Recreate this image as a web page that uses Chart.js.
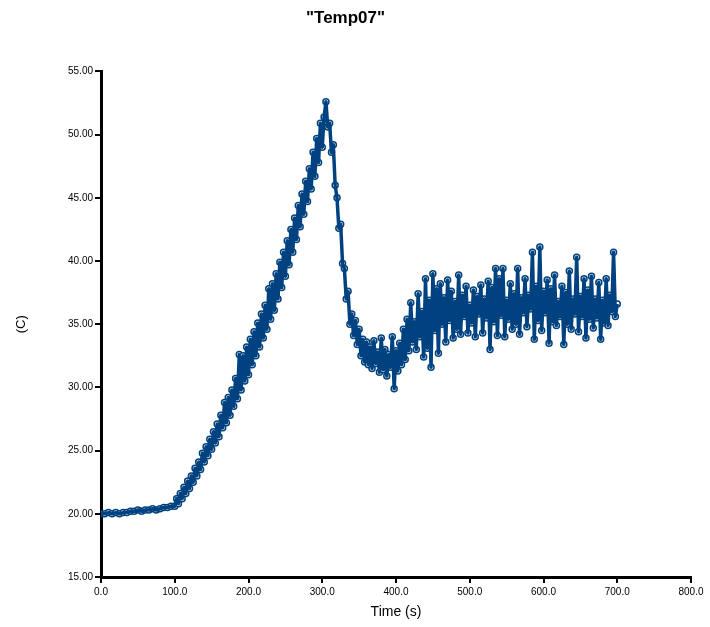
<!DOCTYPE html>
<html>
<head>
<meta charset="utf-8">
<script src="https://cdn.jsdelivr.net/npm/chart.js@4.4.0/dist/chart.umd.min.js"></script>
<style>
  html, body { margin: 0; padding: 0; background: #fff; }
  #wrap { width: 710px; height: 627px; }
</style>
</head>
<body>
<div id="wrap"><canvas id="tempChart" width="710" height="627"></canvas></div>
<script>
// time (s) of each reading
const times = [
  0, 5, 10, 15, 20, 25, 30, 35, 40, 45, 50, 55, 60, 65, 70, 75, 80, 85, 90, 95,
  100, 102.5, 105, 107.5, 110, 112.5, 115, 117.5,
  120, 122.5, 125, 127.5, 130, 132.5, 135, 137.5,
  140, 142.5, 145, 147.5, 150, 152.5, 155, 157.5,
  160, 162.5, 165, 167.5, 170, 172.5, 175, 177.5,
  180, 182.5, 185, 187.5, 190, 192.5, 195, 197.5,
  200, 202.5, 205, 207.5, 210, 212.5, 215, 217.5,
  220, 222.5, 225, 227.5, 230, 232.5, 235, 237.5,
  240, 242.5, 245, 247.5, 250, 252.5, 255, 257.5,
  260, 262.5, 265, 267.5, 270, 272.5, 275, 277.5,
  280, 282.5, 285, 287.5, 290, 292.5, 295, 297.5,
  300, 302.5, 305, 307.5, 310, 312.5, 315, 317.5,
  320, 322.5, 325, 327.5, 330, 332.5, 335, 337.5,
  340, 342.5, 345, 347.5, 350, 352.5, 355, 357.5,
  360, 362.5, 365, 367.5, 370, 372.5, 375, 377.5,
  380, 382.5, 385, 387.5, 390, 392.5, 395, 397.5,
  400, 402.5, 405, 407.5, 410, 412.5, 415, 417.5,
  420, 422.5, 425, 427.5, 430, 432.5, 435, 437.5,
  440, 442.5, 445, 447.5, 450, 452.5, 455, 457.5,
  460, 462.5, 465, 467.5, 470, 472.5, 475, 477.5,
  480, 482.5, 485, 487.5, 490, 492.5, 495, 497.5,
  500, 502.5, 505, 507.5, 510, 512.5, 515, 517.5,
  520, 522.5, 525, 527.5, 530, 532.5, 535, 537.5,
  540, 542.5, 545, 547.5, 550, 552.5, 555, 557.5,
  560, 562.5, 565, 567.5, 570, 572.5, 575, 577.5,
  580, 582.5, 585, 587.5, 590, 592.5, 595, 597.5,
  600, 602.5, 605, 607.5, 610, 612.5, 615, 617.5,
  620, 622.5, 625, 627.5, 630, 632.5, 635, 637.5,
  640, 642.5, 645, 647.5, 650, 652.5, 655, 657.5,
  660, 662.5, 665, 667.5, 670, 672.5, 675, 677.5,
  680, 682.5, 685, 687.5, 690, 692.5, 695, 697.5,
  700
];

// Temp07 readings (C)
const temps = [
  20.0, 20.0, 20.1, 20.0, 20.1, 20.0, 20.1, 20.1, 20.2, 20.2, 20.3, 20.2, 20.3, 20.3, 20.4, 20.3, 20.4, 20.5, 20.5, 20.6,
  20.6, 21.2, 20.8, 21.6, 21.2, 22.1, 21.6, 22.6,
  22.0, 23.0, 22.5, 23.6, 23.0, 24.1, 23.5, 24.8,
  24.1, 25.3, 24.6, 25.9, 25.1, 26.5, 25.6, 27.1,
  26.1, 27.8, 26.8, 28.8, 27.2, 29.2, 27.8, 29.8,
  28.5, 30.7, 29.1, 32.6, 29.8, 32.5, 30.5, 33.2,
  31.0, 33.8, 31.8, 34.4, 32.5, 35.1, 33.2, 35.8,
  33.9, 36.5, 34.6, 37.8, 35.4, 38.2, 36.1, 39.0,
  37.0, 39.9, 37.9, 40.7, 38.8, 41.6, 39.7, 42.5,
  40.7, 43.4, 41.7, 44.4, 42.7, 45.3, 43.7, 46.3,
  44.7, 47.3, 45.7, 48.6, 46.7, 49.7, 47.8, 50.9,
  49.0, 51.4, 52.6, 50.6, 50.9, 48.6, 49.2, 46.0,
  45.0, 42.6, 42.9, 39.8, 39.4, 37.0, 37.6, 35.0,
  35.8, 34.1, 35.3, 33.4, 34.6, 32.5, 33.8, 32.0,
  33.6, 31.8, 33.2, 31.5, 33.7, 31.9, 32.8, 31.2,
  33.9, 31.4, 33.0, 30.9, 32.6, 31.6, 34.0, 29.9,
  32.9, 31.3, 33.5, 31.8, 34.6, 32.2, 35.4, 32.9,
  36.7, 33.6, 35.2, 33.0, 37.4, 34.0, 36.0, 32.4,
  38.6, 33.1, 36.9, 31.6, 39.0, 34.5, 37.8, 32.7,
  38.2, 35.0, 37.1, 33.6, 38.5, 35.3, 37.6, 33.9,
  36.8, 34.6, 38.9, 34.2, 37.3, 35.6, 38.0, 34.3,
  36.5, 35.1, 37.7, 34.0, 37.2, 35.8, 38.1, 34.3,
  37.0, 35.5, 38.4, 33.0, 37.9, 35.2, 39.4, 34.1,
  38.6, 35.7, 39.4, 34.0, 36.9, 35.4, 38.2, 34.6,
  37.4, 35.0, 39.4, 34.2, 37.1, 35.9, 38.6, 34.8,
  37.3, 36.2, 40.7, 33.8, 38.0, 35.3, 41.1, 34.5,
  37.6, 35.9, 38.5, 33.5, 37.8, 35.2, 38.9, 34.9,
  36.8, 35.6, 38.0, 33.4, 37.5, 35.0, 39.2, 34.6,
  37.0, 35.8, 40.3, 34.4, 37.2, 35.6, 38.6, 33.9,
  37.7, 35.4, 38.8, 34.7, 37.0, 35.5, 38.3, 33.8,
  36.9, 35.1, 38.6, 34.9, 37.3, 36.0, 40.7, 35.6,
  36.6
];

const xTicks = [0, 100, 200, 300, 400, 500, 600, 700, 800];
const yTicks = [15, 20, 25, 30, 35, 40, 45, 50, 55];

const blue = "#00427f";
const points = times.map((t, i) => ({ x: t, y: temps[i] }));

const tickFont = { family: "Liberation Sans", size: 10 };

const ctx = document.getElementById("tempChart").getContext("2d");
new Chart(ctx, {
  type: "line",
  data: {
    datasets: [
      {
        label: "Temp07",
        data: points,
        borderColor: blue,
        borderWidth: 3.5,
        borderJoinStyle: "round",
        pointRadius: 0,
        tension: 0,
        order: 1
      },
      {
        label: "markers",
        data: points,
        showLine: false,
        pointRadius: 3,
        pointBorderWidth: 1.5,
        pointBorderColor: blue,
        pointBackgroundColor: "#ffffff",
        order: 2
      }
    ]
  },
  options: {
    responsive: false,
    animation: false,
    layout: { padding: { left: 0, right: 19, top: 0, bottom: 0 } },
    plugins: {
      legend: { display: false },
      tooltip: { enabled: false },
      title: {
        display: true,
        text: '"Temp07"',
        color: "#000",
        font: { family: "Liberation Sans", size: 17, weight: "bold" },
        padding: { top: 8, bottom: 43 }
      }
    },
    scales: {
      x: {
        type: "linear",
        min: 0,
        max: 800,
        afterBuildTicks: s => { s.ticks = xTicks.map(v => ({ value: v })); },
        afterFit: s => { s.height = 50; },
        ticks: {
          color: "#000",
          font: tickFont,
          padding: 3,
          maxRotation: 0,
          callback: v => Number(v).toFixed(1)
        },
        grid: { drawOnChartArea: false, drawTicks: true, tickLength: 6, lineWidth: 2, color: "#000" },
        border: { display: true, width: 3, color: "#000" },
        title: {
          display: true,
          text: "Time (s)",
          color: "#000",
          font: { family: "Liberation Sans", size: 14 },
          padding: { top: 0, bottom: 6 }
        }
      },
      y: {
        min: 15,
        max: 55,
        afterBuildTicks: s => { s.ticks = yTicks.map(v => ({ value: v })); },
        afterFit: s => { s.width = 101; },
        ticks: {
          color: "#000",
          font: tickFont,
          padding: 2,
          callback: v => Number(v).toFixed(2)
        },
        grid: { drawOnChartArea: false, drawTicks: true, tickLength: 6, lineWidth: 2, color: "#000" },
        border: { display: true, width: 3, color: "#000" },
        title: {
          display: true,
          text: "(C)",
          color: "#000",
          font: { family: "Liberation Sans", size: 13 },
          padding: { top: 14, bottom: 0 }
        }
      }
    }
  }
});
</script>
</body>
</html>
